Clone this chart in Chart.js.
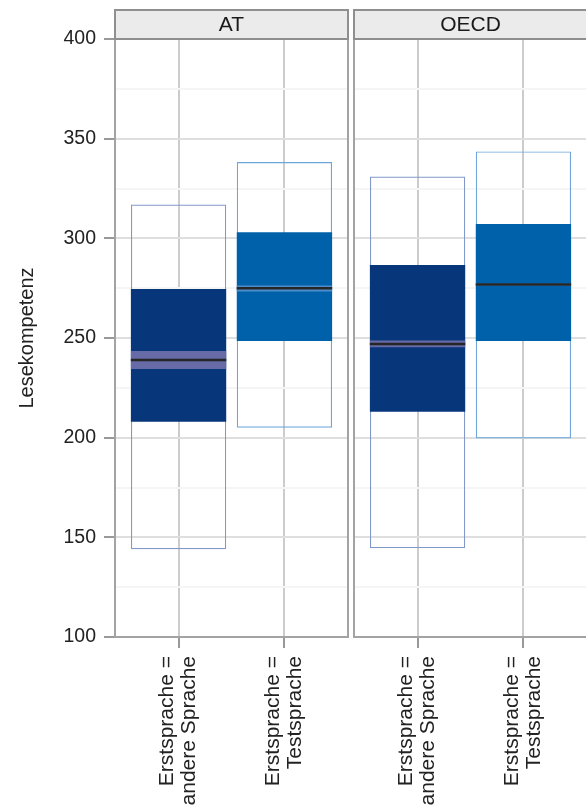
<!DOCTYPE html>
<html lang="de">
<head>
<meta charset="utf-8">
<title>Lesekompetenz nach Erstsprache</title>
<script src="https://cdn.jsdelivr.net/npm/chart.js@4.4.1/dist/chart.umd.min.js"></script>
<style>
  html, body { margin: 0; padding: 0; background: #fff; }
  body { width: 586px; height: 806px; overflow: hidden; position: relative; }
  .panel { position: absolute; top: 0; }
  #panelAT { left: 0; }
  #panelOECD { left: 351px; }
</style>
</head>
<body>
<div class="panel" id="panelAT"><canvas id="chartAT" width="351" height="806"></canvas></div>
<div class="panel" id="panelOECD"><canvas id="chartOECD" width="239" height="806"></canvas></div>
<script>
/* Daten */
const categories = [["Erstsprache =", "andere Sprache"], ["Erstsprache =", "Testsprache"]];
const categoryPos = [1, 2];
const yTicks = [100, 150, 200, 250, 300, 350, 400];

// AT
const atP5 = [144, 205];
const atP25 = [208, 248.5];
const atMedian = [239, 275];
const atCiLow = [234.5, 273.3];
const atCiHigh = [243.5, 276.3];
const atP75 = [274.6, 303];
const atP95 = [317, 338.3];

// OECD
const oecdP5 = [144.6, 199.6];
const oecdP25 = [213, 248.5];
const oecdMedian = [247, 276.8];
const oecdCiLow = [245.4, 276.2];
const oecdCiHigh = [248.7, 277.4];
const oecdP75 = [286.6, 307.2];
const oecdP95 = [331, 343.6];

/* Farben */
const fillColors = ["#08367b", "#0061ab"];
const ciColors = ["#666aa6", "#4d8bca"];
const outlineColors = ["#8199c9", "#6ea6dc"];

const FONT = '"Liberation Sans", Arial, Helvetica, sans-serif';
Chart.defaults.font.family = FONT;
Chart.defaults.color = "#222";

/* Panel-Rahmen + Streifen oben */
const panelFrame = {
  id: "panelFrame",
  afterDraw(chart, args, opts) {
    const { ctx, chartArea: { left, right, top, bottom } } = chart;
    ctx.save();
    ctx.lineWidth = 2;
    ctx.strokeStyle = "#a3a3a3";
    ctx.strokeRect(left, top, right - left, bottom - top);
    ctx.fillStyle = "#ebebeb";
    ctx.fillRect(left, 10, right - left, top - 10);
    ctx.strokeStyle = "#8f8f8f";
    ctx.strokeRect(left, 10, right - left, top - 10);
    ctx.fillStyle = "#1a1a1a";
    ctx.font = "21px " + FONT;
    ctx.textAlign = "center";
    ctx.textBaseline = "middle";
    ctx.fillText(opts.text, (left + right) / 2, (10 + top) / 2 + 1);
    ctx.restore();
  }
};

function toRange(lo, hi) {
  return lo.map((v, i) => ({ x: categoryPos[i], y: [v, hi[i]] }));
}

function makePanel(canvasId, name, p5, p25, median, ciLow, ciHigh, p75, p95, showYAxis) {
  const el = document.getElementById(canvasId);
  return new Chart(el, {
    type: "bar",
    data: {
      datasets: [
        {
          label: "5.–95. Perzentil",
          data: toRange(p5, p95),
          backgroundColor: "rgba(0,0,0,0)",
          borderColor: outlineColors,
          borderWidth: 1.2,
          borderSkipped: false,
          order: 4
        },
        {
          label: "25.–75. Perzentil",
          data: toRange(p25, p75),
          backgroundColor: fillColors,
          borderWidth: 0,
          order: 3
        },
        {
          label: "Konfidenzintervall",
          data: toRange(ciLow, ciHigh),
          backgroundColor: ciColors,
          borderWidth: 0,
          order: 2
        },
        {
          type: "line",
          label: "Median",
          data: median.map((v, i) => ({ x: categoryPos[i], y: v })),
          showLine: false,
          pointStyle: "line",
          pointRadius: (c) => {
            const s = c.chart.scales.x;
            return s.getPixelForValue(1.45) - s.getPixelForValue(1);
          },
          pointBorderColor: "#262626",
          pointBorderWidth: 2.5,
          order: 1
        }
      ]
    },
    options: {
      responsive: false,
      animation: false,
      events: [],
      layout: { padding: { top: 39, right: 3, left: showYAxis ? 0 : 3, bottom: 0 } },
      datasets: {
        bar: { grouped: false, barPercentage: 0.9, categoryPercentage: 1 }
      },
      plugins: {
        legend: { display: false },
        tooltip: { enabled: false },
        panelFrame: { text: name }
      },
      scales: {
        x: {
          type: "linear",
          min: 0.4,
          max: 2.6,
          offset: false,
          afterBuildTicks: (scale) => { scale.ticks = categoryPos.map((v) => ({ value: v })); },
          afterFit: (scale) => { scale.height = 169; },
          border: { display: false },
          grid: { offset: false, color: "#cccccc", lineWidth: 2, tickLength: 11, tickColor: "#999", tickWidth: 2 },
          ticks: {
            autoSkip: false,
            maxRotation: 90,
            minRotation: 90,
            padding: 8,
            labelOffset: -11,
            font: { size: 21, lineHeight: 1.05 },
            color: "#222",
            callback: (value) => categories[categoryPos.indexOf(value)]
          }
        },
        y: {
          min: 100,
          max: 400,
          afterFit: (scale) => { scale.width = showYAxis ? 115 : 0; },
          border: { display: false },
          title: {
            display: showYAxis,
            text: "Lesekompetenz",
            font: { size: 20 },
            color: "#222",
            padding: { top: 15, bottom: 0 }
          },
          grid: {
            color: (c) => (c.tick && c.tick.value % 50 === 0 ? "#dedede" : "#f5f5f5"),
            lineWidth: 2,
            drawTicks: showYAxis,
            tickLength: 11,
            tickWidth: 2,
            tickColor: (c) => (c.tick && c.tick.value % 50 === 0 ? "#999" : "rgba(0,0,0,0)")
          },
          ticks: {
            display: showYAxis,
            stepSize: 25,
            padding: 8,
            font: { size: 19.5 },
            color: "#222",
            callback: (value) => (yTicks.includes(value) ? value : "")
          }
        }
      }
    },
    plugins: [panelFrame]
  });
}

makePanel("chartAT", "AT", atP5, atP25, atMedian, atCiLow, atCiHigh, atP75, atP95, true);
makePanel("chartOECD", "OECD", oecdP5, oecdP25, oecdMedian, oecdCiLow, oecdCiHigh, oecdP75, oecdP95, false);
</script>
</body>
</html>
